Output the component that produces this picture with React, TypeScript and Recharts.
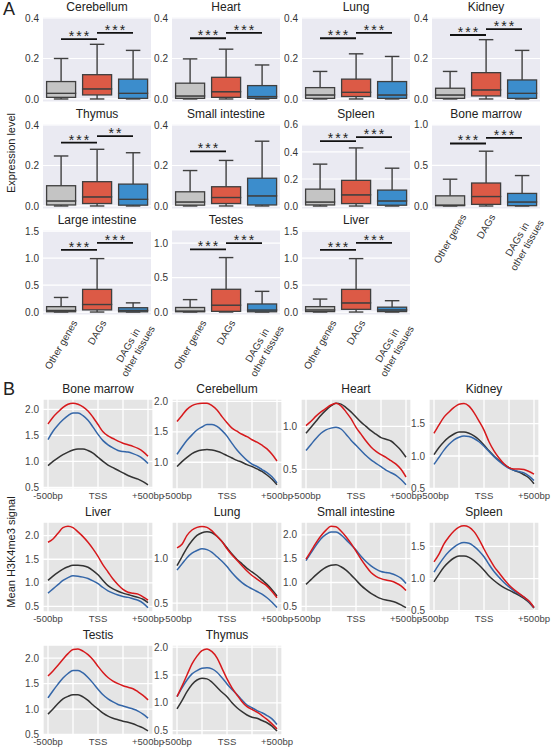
import React from "react";
import {
  ComposedChart,
  LineChart,
  Line,
  Bar,
  XAxis,
  YAxis,
  CartesianGrid,
  ReferenceLine,
} from "recharts";

const FONT = '"Liberation Sans", Arial, Helvetica, sans-serif';

// ---------------- Panel A: expression level box plots ----------------
const groups = ["Other genes", "DAGs", "DAGs in\nother tissues"];
const groupFill = ["#c4c4c4", "#dc5a46", "#3c8dcc"];
const boxEdge = "#3f3f3f";

// one row per group: [low whisker, q1, median, q3, high whisker]
const cerebellumBox = [[0, 0.008, 0.028, 0.086, 0.2], [0, 0.02, 0.05, 0.12, 0.27], [0, 0.003, 0.028, 0.098, 0.24]];
const heartBox = [[0, 0.003, 0.015, 0.078, 0.198], [0, 0.008, 0.036, 0.107, 0.246], [0, 0.003, 0.012, 0.066, 0.168]];
const lungBox = [[0, 0.003, 0.02, 0.056, 0.136], [0, 0.012, 0.033, 0.098, 0.223], [0, 0.003, 0.02, 0.086, 0.21]];
const kidneyBox = [[0, 0.003, 0.02, 0.053, 0.136], [0, 0.015, 0.045, 0.13, 0.293], [0, 0.003, 0.028, 0.094, 0.24]];
const thymusBox = [[0, 0.005, 0.025, 0.1, 0.247], [0, 0.012, 0.045, 0.12, 0.28], [0, 0.004, 0.033, 0.108, 0.263]];
const smallIntestineBox = [[0, 0.004, 0.02, 0.07, 0.175], [0, 0.012, 0.042, 0.095, 0.225], [0, 0.005, 0.05, 0.137, 0.32]];
const spleenBox = [[0, 0.008, 0.03, 0.125, 0.31], [0, 0.018, 0.083, 0.19, 0.43], [0, 0.006, 0.038, 0.118, 0.28]];
const boneMarrowBox = [[0, 0.004, 0.012, 0.125, 0.33], [0, 0.02, 0.117, 0.283, 0.675], [0, 0.004, 0.05, 0.155, 0.375]];
const largeIntestineBox = [[0, 0.005, 0.03, 0.1, 0.27], [0, 0.04, 0.14, 0.42, 0.99], [0, 0.004, 0.03, 0.08, 0.17]];
const testesBox = [[0, 0.004, 0.015, 0.066, 0.18], [0, 0.01, 0.1, 0.33, 0.79], [0, 0.004, 0.03, 0.117, 0.3]];
const liverBox = [[0, 0.008, 0.04, 0.1, 0.24], [0, 0.05, 0.17, 0.42, 0.99], [0, 0.008, 0.04, 0.09, 0.21]];

// significance bar heights: [Other vs DAGs, DAGs vs DAGs in other tissues]
const cerebellumSig = [0.296, 0.327];
const heartSig = [0.3, 0.327];
const lungSig = [0.3, 0.327];
const kidneySig = [0.316, 0.345];
const thymusSig = [0.313, 0.345];
const smallIntestineSig = [0.27, null];
const spleenSig = [0.48, 0.51];
const boneMarrowSig = [0.77, 0.84];
const largeIntestineSig = [1.15, 1.28];
const testesSig = [0.91, 1.0];
const liverSig = [1.15, 1.28];

const A_COLS = [43, 172, 302, 432];
const A_ROWS = [17, 124, 230];
const A_W = 108;
const A_H = 85;
const PAD = 7; // room above/below the plot so edge tick labels are not clipped

const boxPanels = [
  { title: "Cerebellum", stats: cerebellumBox, sig: cerebellumSig, stars: ["***", "***"], domain: [-0.015, 0.405], ticks: [0, 0.2, 0.4], col: 0, row: 0, labels: false },
  { title: "Heart", stats: heartBox, sig: heartSig, stars: ["***", "***"], domain: [-0.015, 0.405], ticks: [0, 0.2, 0.4], col: 1, row: 0, labels: false },
  { title: "Lung", stats: lungBox, sig: lungSig, stars: ["***", "***"], domain: [-0.015, 0.405], ticks: [0, 0.2, 0.4], col: 2, row: 0, labels: false },
  { title: "Kidney", stats: kidneyBox, sig: kidneySig, stars: ["***", "***"], domain: [-0.015, 0.405], ticks: [0, 0.2, 0.4], col: 3, row: 0, labels: false },
  { title: "Thymus", stats: thymusBox, sig: thymusSig, stars: ["***", "**"], domain: [-0.015, 0.405], ticks: [0, 0.2, 0.4], col: 0, row: 1, labels: false },
  { title: "Small intestine", stats: smallIntestineBox, sig: smallIntestineSig, stars: ["***", ""], domain: [-0.015, 0.405], ticks: [0, 0.2, 0.4], col: 1, row: 1, labels: false },
  { title: "Spleen", stats: spleenBox, sig: spleenSig, stars: ["***", "***"], domain: [-0.022, 0.607], ticks: [0, 0.2, 0.4, 0.6], col: 2, row: 1, labels: false },
  { title: "Bone marrow", stats: boneMarrowBox, sig: boneMarrowSig, stars: ["***", "***"], domain: [-0.037, 1.01], ticks: [0, 0.5, 1.0], col: 3, row: 1, labels: true },
  { title: "Large intestine", stats: largeIntestineBox, sig: largeIntestineSig, stars: ["***", "***"], domain: [-0.055, 1.52], ticks: [0, 0.5, 1.0, 1.5], col: 0, row: 2, labels: true },
  { title: "Testes", stats: testesBox, sig: testesSig, stars: ["***", "***"], domain: [-0.043, 1.19], ticks: [0, 0.5, 1.0], col: 1, row: 2, labels: true },
  { title: "Liver", stats: liverBox, sig: liverSig, stars: ["***", "***"], domain: [-0.055, 1.52], ticks: [0, 0.5, 1.0, 1.5], col: 2, row: 2, labels: true },
];

// ---------------- Panel B: H3K4me3 profiles around TSS ----------------
const tssPos = [-500, -450, -400, -350, -300, -250, -200, -150, -100, -50, 0, 50, 100, 150, 200, 250, 300, 350, 400, 450, 500];
const tssTicks = [-500, -250, 0, 250, 500];
const tssTickLabels = ["-500bp", "", "TSS", "", "+500bp"];

const boneMarrowDags = [1.72, 1.85, 1.95, 2.04, 2.1, 2.12, 2.1, 2.05, 1.97, 1.85, 1.71, 1.57, 1.49, 1.44, 1.39, 1.35, 1.32, 1.29, 1.25, 1.19, 1.1];
const boneMarrowElse = [1.42, 1.58, 1.7, 1.8, 1.88, 1.93, 1.93, 1.88, 1.79, 1.66, 1.52, 1.4, 1.32, 1.26, 1.21, 1.19, 1.18, 1.15, 1.11, 1.05, 0.96];
const boneMarrowOther = [0.92, 1.0, 1.07, 1.13, 1.18, 1.22, 1.24, 1.24, 1.21, 1.16, 1.08, 1.0, 0.93, 0.88, 0.83, 0.78, 0.73, 0.69, 0.66, 0.61, 0.55];

const cerebellumDags = [1.67, 1.77, 1.87, 1.93, 1.96, 1.97, 1.97, 1.93, 1.86, 1.75, 1.65, 1.56, 1.51, 1.46, 1.42, 1.37, 1.33, 1.28, 1.22, 1.13, 1.02];
const cerebellumElse = [1.13, 1.25, 1.36, 1.45, 1.53, 1.58, 1.62, 1.62, 1.59, 1.52, 1.43, 1.31, 1.2, 1.11, 1.03, 0.97, 0.93, 0.88, 0.83, 0.76, 0.66];
const cerebellumOther = [0.93, 1.01, 1.08, 1.14, 1.18, 1.2, 1.21, 1.2, 1.18, 1.15, 1.11, 1.07, 1.03, 1.0, 0.96, 0.93, 0.89, 0.85, 0.79, 0.72, 0.63];

const heartDags = [1.01, 1.06, 1.12, 1.17, 1.21, 1.25, 1.27, 1.24, 1.17, 1.09, 0.99, 0.91, 0.83, 0.76, 0.71, 0.67, 0.64, 0.6, 0.56, 0.5, 0.41];
const heartElse = [0.72, 0.79, 0.86, 0.92, 0.96, 0.98, 0.99, 0.97, 0.91, 0.84, 0.78, 0.72, 0.66, 0.61, 0.57, 0.53, 0.49, 0.46, 0.43, 0.38, 0.32];
const heartOther = [0.92, 0.99, 1.06, 1.13, 1.19, 1.24, 1.27, 1.26, 1.22, 1.17, 1.11, 1.05, 1.0, 0.95, 0.91, 0.87, 0.85, 0.83, 0.78, 0.72, 0.64];

const kidneyDags = [1.35, 1.48, 1.6, 1.68, 1.75, 1.8, 1.81, 1.77, 1.67, 1.54, 1.4, 1.22, 1.08, 0.97, 0.88, 0.82, 0.8, 0.8, 0.79, 0.76, 0.72];
const kidneyElse = [0.87, 0.98, 1.09, 1.18, 1.25, 1.29, 1.31, 1.3, 1.27, 1.22, 1.15, 1.07, 0.99, 0.92, 0.86, 0.81, 0.78, 0.76, 0.74, 0.69, 0.62];
const kidneyOther = [1.02, 1.13, 1.22, 1.29, 1.34, 1.37, 1.37, 1.35, 1.31, 1.25, 1.17, 1.08, 1.0, 0.93, 0.87, 0.82, 0.78, 0.75, 0.71, 0.66, 0.57];

const liverDags = [1.86, 1.93, 2.05, 2.17, 2.2, 2.17, 2.08, 1.98, 1.86, 1.72, 1.56, 1.38, 1.23, 1.08, 0.96, 0.86, 0.8, 0.78, 0.76, 0.7, 0.63];
const liverElse = [0.78, 0.87, 0.96, 1.05, 1.11, 1.15, 1.14, 1.12, 1.09, 1.04, 0.98, 0.9, 0.83, 0.78, 0.74, 0.71, 0.69, 0.66, 0.63, 0.57, 0.47];
const liverOther = [1.05, 1.14, 1.22, 1.29, 1.34, 1.37, 1.37, 1.36, 1.33, 1.26, 1.17, 1.05, 0.94, 0.87, 0.82, 0.78, 0.75, 0.72, 0.69, 0.65, 0.58];

const lungDags = [1.12, 1.16, 1.26, 1.32, 1.35, 1.36, 1.35, 1.31, 1.25, 1.19, 1.11, 1.04, 0.98, 0.92, 0.86, 0.81, 0.77, 0.73, 0.69, 0.63, 0.56];
const lungElse = [0.87, 0.94, 1.01, 1.06, 1.09, 1.11, 1.1, 1.07, 1.02, 0.97, 0.91, 0.84, 0.78, 0.73, 0.69, 0.66, 0.63, 0.6, 0.56, 0.51, 0.45];
const lungOther = [0.92, 1.02, 1.12, 1.2, 1.26, 1.29, 1.3, 1.29, 1.25, 1.19, 1.12, 1.05, 0.99, 0.94, 0.89, 0.85, 0.81, 0.76, 0.71, 0.65, 0.58];

const smallIntestineDags = [1.49, 1.66, 1.83, 1.98, 2.1, 2.18, 2.17, 2.08, 1.96, 1.82, 1.66, 1.49, 1.34, 1.21, 1.13, 1.08, 1.05, 1.03, 0.99, 0.93, 0.83];
const smallIntestineElse = [1.46, 1.62, 1.78, 1.92, 2.01, 2.06, 2.06, 2.0, 1.9, 1.79, 1.68, 1.55, 1.44, 1.35, 1.28, 1.23, 1.21, 1.19, 1.15, 1.09, 0.98];
const smallIntestineOther = [0.96, 1.06, 1.16, 1.25, 1.32, 1.36, 1.37, 1.33, 1.26, 1.16, 1.05, 0.94, 0.85, 0.77, 0.71, 0.66, 0.63, 0.61, 0.58, 0.53, 0.47];

const spleenDags = [1.26, 1.38, 1.54, 1.65, 1.74, 1.8, 1.82, 1.8, 1.73, 1.61, 1.46, 1.32, 1.19, 1.09, 0.99, 0.9, 0.83, 0.77, 0.71, 0.65, 0.55];
const spleenElse = [1.1, 1.22, 1.33, 1.42, 1.49, 1.54, 1.56, 1.55, 1.5, 1.43, 1.34, 1.22, 1.11, 1.02, 0.94, 0.87, 0.81, 0.76, 0.71, 0.64, 0.55];
const spleenOther = [0.95, 1.07, 1.18, 1.26, 1.32, 1.35, 1.35, 1.33, 1.28, 1.21, 1.13, 1.04, 0.97, 0.91, 0.86, 0.82, 0.78, 0.74, 0.69, 0.63, 0.54];

const testisDags = [1.65, 1.75, 1.86, 1.98, 2.09, 2.17, 2.18, 2.14, 2.07, 1.97, 1.84, 1.72, 1.62, 1.55, 1.5, 1.46, 1.43, 1.4, 1.34, 1.27, 1.18];
const testisElse = [1.22, 1.36, 1.49, 1.61, 1.7, 1.76, 1.76, 1.71, 1.62, 1.51, 1.39, 1.28, 1.2, 1.14, 1.09, 1.06, 1.03, 1.0, 0.96, 0.9, 0.82];
const testisOther = [0.9, 1.0, 1.11, 1.2, 1.25, 1.28, 1.28, 1.24, 1.17, 1.08, 1.0, 0.92, 0.86, 0.82, 0.79, 0.76, 0.74, 0.71, 0.67, 0.63, 0.57];

const thymusDags = [1.11, 1.3, 1.5, 1.7, 1.84, 1.94, 1.97, 1.92, 1.81, 1.62, 1.43, 1.27, 1.14, 1.02, 0.93, 0.88, 0.83, 0.77, 0.7, 0.62, 0.53];
const thymusElse = [1.11, 1.27, 1.41, 1.52, 1.58, 1.62, 1.63, 1.61, 1.55, 1.45, 1.34, 1.24, 1.15, 1.05, 0.96, 0.91, 0.86, 0.82, 0.77, 0.71, 0.61];
const thymusOther = [0.89, 1.04, 1.2, 1.33, 1.41, 1.44, 1.43, 1.37, 1.28, 1.19, 1.11, 1.0, 0.91, 0.84, 0.78, 0.74, 0.72, 0.68, 0.64, 0.58, 0.49];

const B_COLS = [43, 172, 301, 429];
const B_ROWS = [399, 522, 645];
const B_W = 110;
const B_H = 90;

const tssPanels = [
  { title: "Bone marrow", dags: boneMarrowDags, alt: boneMarrowElse, other: boneMarrowOther, domain: [0.47, 2.2], ticks: [0.5, 1.0, 1.5, 2.0], col: 0, row: 0 },
  { title: "Cerebellum", dags: cerebellumDags, alt: cerebellumElse, other: cerebellumOther, domain: [0.56, 2.04], ticks: [1.0, 1.5, 2.0], col: 1, row: 0 },
  { title: "Heart", dags: heartDags, alt: heartElse, other: heartOther, domain: [0.27, 1.32], ticks: [0.5, 1.0], col: 2, row: 0 },
  { title: "Kidney", dags: kidneyDags, alt: kidneyElse, other: kidneyOther, domain: [0.49, 1.88], ticks: [0.5, 1.0, 1.5], col: 3, row: 0 },
  { title: "Liver", dags: liverDags, alt: liverElse, other: liverOther, domain: [0.38, 2.29], ticks: [0.5, 1.0, 1.5, 2.0], col: 0, row: 1 },
  { title: "Lung", dags: lungDags, alt: lungElse, other: lungOther, domain: [0.4, 1.41], ticks: [0.5, 1.0], col: 1, row: 1 },
  { title: "Small intestine", dags: smallIntestineDags, alt: smallIntestineElse, other: smallIntestineOther, domain: [0.38, 2.27], ticks: [0.5, 1.0, 1.5, 2.0], col: 2, row: 1 },
  { title: "Spleen", dags: spleenDags, alt: spleenElse, other: spleenOther, domain: [0.48, 1.88], ticks: [0.5, 1.0, 1.5], col: 3, row: 1 },
  { title: "Testis", dags: testisDags, alt: testisElse, other: testisOther, domain: [0.49, 2.26], ticks: [0.5, 1.0, 1.5, 2.0], col: 0, row: 2 },
  { title: "Thymus", dags: thymusDags, alt: thymusElse, other: thymusOther, domain: [0.42, 2.04], ticks: [0.5, 1.0, 1.5, 2.0], col: 1, row: 2 },
];

// ---------------- helpers ----------------
let measureCtx: CanvasRenderingContext2D | null = null;
function textWidth(s: string, size: number) {
  if (!measureCtx) measureCtx = document.createElement("canvas").getContext("2d");
  if (!measureCtx) return s.length * size * 0.55;
  measureCtx.font = `${size}px "Liberation Sans", Arial, sans-serif`;
  return measureCtx.measureText(s).width;
}

// matplotlib-like rotated (60deg, centred) category label
const RotTick = (props: any) => {
  const { x, y, payload } = props;
  const lines = String(payload.value).split("\n");
  const fs = 10;
  const lh = 11.5;
  const w = Math.max(...lines.map((l) => textWidth(l, fs)));
  const h = lines.length * lh;
  const a = Math.PI / 3;
  const H = w * Math.sin(a) + h * Math.cos(a);
  const cy = y + 3 + H / 2;
  return (
    <g transform={`translate(${x},${cy}) rotate(-60)`}>
      <text textAnchor="middle" fontSize={fs} fill="#333" fontFamily={FONT}>
        {lines.map((l, i) => (
          <tspan key={i} x={0} y={(i - (lines.length - 1) / 2) * lh} dy="0.35em">
            {l}
          </tspan>
        ))}
      </text>
    </g>
  );
};

const whiskerShape = (capAtTop: boolean) => (p: any) => {
  const { x, y, width, height } = p;
  if (x == null || y == null) return <g />;
  const cx = x + width / 2;
  const y0 = Math.min(y, y + height);
  const y1 = Math.max(y, y + height);
  const capY = capAtTop ? y0 : y1;
  const cw = width / 4;
  return (
    <g>
      <line x1={cx} x2={cx} y1={y0} y2={y1} stroke={boxEdge} strokeWidth={1.4} />
      <line x1={cx - cw} x2={cx + cw} y1={capY} y2={capY} stroke={boxEdge} strokeWidth={1.4} />
    </g>
  );
};

const boxShape = (p: any) => {
  const { x, y, width, height, payload } = p;
  if (x == null || y == null) return <g />;
  const i = groups.indexOf(payload.group);
  return (
    <rect
      x={x}
      y={Math.min(y, y + height)}
      width={width}
      height={Math.abs(height)}
      fill={groupFill[i]}
      stroke={boxEdge}
      strokeWidth={1.3}
    />
  );
};

const StarLabel = (props: any) => {
  const { viewBox, text } = props;
  if (!viewBox) return null;
  const cx = viewBox.x + viewBox.width / 2;
  return (
    <text x={cx + 1} y={viewBox.y + 2} textAnchor="middle" fontSize={14} letterSpacing={2} fill="#222" fontFamily={FONT}>
      {text}
    </text>
  );
};

const titleStyle = (left: number, top: number, width: number): React.CSSProperties => ({
  position: "absolute",
  left,
  top: top - 17,
  width,
  textAlign: "center",
  fontSize: 12,
  lineHeight: "14px",
  color: "#222",
  whiteSpace: "nowrap",
});

function BoxPanel({ p }: { p: any }) {
  const data = groups.map((g, i) => {
    const [lo, q1, md, q3, hi] = p.stats[i];
    return { group: g, base: lo, wLo: q1 - lo, bLo: md - q1, bHi: q3 - md, wHi: hi - q3 };
  });
  const left = A_COLS[p.col];
  const top = A_ROWS[p.row];
  const xh = p.labels ? 85 : 0;
  const mb = p.labels ? 0 : PAD;
  return (
    <>
      <div style={titleStyle(left, top, A_W)}>{p.title}</div>
      <div style={{ position: "absolute", left: left - 40, top: top - PAD }}>
        <ComposedChart
          width={40 + A_W + 25}
          height={PAD + A_H + xh + mb}
          data={data}
          margin={{ top: PAD, right: 25, bottom: mb, left: 0 }}
          barCategoryGap="10%"
        >
          <CartesianGrid vertical={false} stroke="#ffffff" strokeWidth={1.2} fill="#eaeaf2" fillOpacity={1} />
          <XAxis
            dataKey="group"
            type="category"
            hide={!p.labels}
            height={xh}
            axisLine={false}
            tickLine={false}
            tickSize={0}
            tickMargin={0}
            interval={0}
            tick={RotTick}
          />
          <YAxis
            type="number"
            domain={p.domain}
            ticks={p.ticks}
            interval={0}
            allowDataOverflow
            width={40}
            axisLine={false}
            tickLine={false}
            tickSize={0}
            tickMargin={4}
            tickFormatter={(v: number) => v.toFixed(1)}
            tick={{ fontSize: 10, fill: "#333", fontFamily: FONT }}
          />
          <Bar dataKey="base" stackId="b" fill="none" isAnimationActive={false} />
          <Bar dataKey="wLo" stackId="b" shape={whiskerShape(false)} isAnimationActive={false} />
          <Bar dataKey="bLo" stackId="b" shape={boxShape} isAnimationActive={false} />
          <Bar dataKey="bHi" stackId="b" shape={boxShape} isAnimationActive={false} />
          <Bar dataKey="wHi" stackId="b" shape={whiskerShape(true)} isAnimationActive={false} />
          {p.sig.map((v: number | null, k: number) =>
            v == null ? null : (
              <ReferenceLine
                key={k}
                segment={[
                  { x: groups[k], y: v },
                  { x: groups[k + 1], y: v },
                ]}
                stroke="#111"
                strokeWidth={1.8}
                ifOverflow="visible"
                label={<StarLabel text={p.stars[k]} />}
              />
            )
          )}
        </ComposedChart>
      </div>
    </>
  );
}

function TssPanel({ p }: { p: any }) {
  const data = tssPos.map((pos, i) => ({ pos, other: p.other[i], alt: p.alt[i], dags: p.dags[i] }));
  const left = B_COLS[p.col];
  const top = B_ROWS[p.row];
  return (
    <>
      <div style={titleStyle(left, top, B_W)}>{p.title}</div>
      <div style={{ position: "absolute", left: left - 40, top: top - PAD }}>
        <LineChart
          width={40 + B_W + 22}
          height={PAD + B_H + 20}
          data={data}
          margin={{ top: PAD, right: 22, bottom: 0, left: 0 }}
        >
          <CartesianGrid stroke="#ffffff" strokeWidth={1.3} fill="#e5e5e5" fillOpacity={1} />
          <XAxis
            dataKey="pos"
            type="number"
            domain={[-550, 550]}
            ticks={tssTicks}
            allowDataOverflow
            interval={0}
            height={20}
            axisLine={false}
            tickLine={false}
            tickSize={0}
            tickMargin={3}
            tickFormatter={(v: number) => tssTickLabels[tssTicks.indexOf(v)] ?? ""}
            tick={{ fontSize: 9.5, fill: "#444", fontFamily: FONT }}
          />
          <YAxis
            type="number"
            domain={p.domain}
            ticks={p.ticks}
            interval={0}
            allowDataOverflow
            width={40}
            axisLine={false}
            tickLine={false}
            tickSize={0}
            tickMargin={4}
            tickFormatter={(v: number) => v.toFixed(1)}
            tick={{ fontSize: 10, fill: "#444", fontFamily: FONT }}
          />
          <Line dataKey="other" type="monotone" stroke="#333333" strokeWidth={1.5} dot={false} isAnimationActive={false} />
          <Line dataKey="alt" type="monotone" stroke="#3466a8" strokeWidth={1.5} dot={false} isAnimationActive={false} />
          <Line dataKey="dags" type="monotone" stroke="#d7191c" strokeWidth={1.5} dot={false} isAnimationActive={false} />
        </LineChart>
      </div>
    </>
  );
}

const rotLabel = (cx: number, cy: number): React.CSSProperties => ({
  position: "absolute",
  left: cx,
  top: cy,
  transform: "translate(-50%, -50%) rotate(-90deg)",
  fontSize: 11,
  color: "#222",
  whiteSpace: "nowrap",
});

export default function App() {
  return (
    <div
      style={{
        position: "absolute",
        left: 0,
        top: 0,
        width: 551,
        height: 750,
        background: "#ffffff",
        fontFamily: FONT,
        overflow: "hidden",
      }}
    >
      <div style={{ position: "absolute", left: 3, top: -1, fontSize: 18, color: "#222" }}>A</div>
      <div style={{ position: "absolute", left: 3, top: 379, fontSize: 18, color: "#222" }}>B</div>
      <div style={rotLabel(11, 153)}>Expression level</div>
      <div style={rotLabel(11, 552)}>Mean H3K4me3 signal</div>
      {boxPanels.map((p) => (
        <BoxPanel key={p.title} p={p} />
      ))}
      {tssPanels.map((p) => (
        <TssPanel key={p.title} p={p} />
      ))}
    </div>
  );
}
